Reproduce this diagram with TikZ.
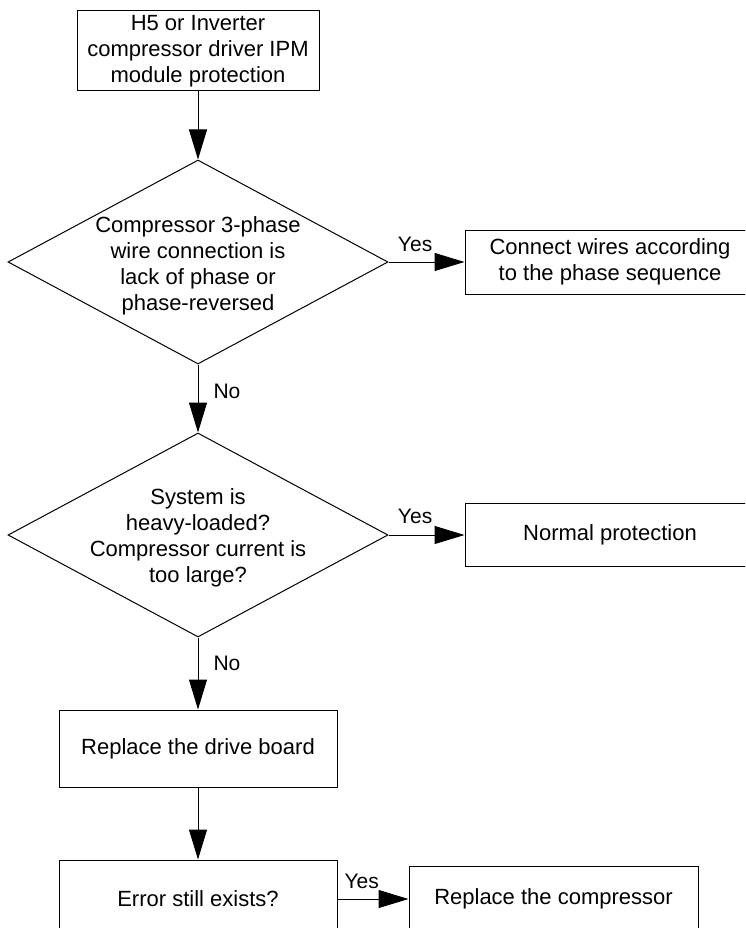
\documentclass[tikz,border=0pt]{standalone}
\usepackage{fontspec}
\setmainfont{Liberation Sans}
\usetikzlibrary{shapes.geometric,arrows.meta}

\begin{document}
\begin{tikzpicture}[x=1pt,y=-1pt,
  box/.style={draw,line width=1pt,rectangle,align=center,inner sep=0pt,font=\fontsize{22}{26}\selectfont},
  decision/.style={draw,line width=1pt,diamond,inner sep=0pt,minimum width=380pt,minimum height=204pt},
  dectext/.style={align=center,inner sep=0pt,font=\fontsize{22}{26}\selectfont},
  flow/.style={line width=1pt,-{Triangle[length=30pt,width=18pt]}},
  lbl/.style={inner sep=0pt,font=\fontsize{21}{24}\selectfont}]

\path[use as bounding box] (0,0) rectangle (745,928);
\clip (0,0) rectangle (745,928);

\node[box,minimum width=242pt,minimum height=80pt] (start) at (198,51) {H5 or Inverter\\compressor driver IPM\\module protection};
\node[decision] (dec1) at (198,262) {};
\node[dectext] at ([yshift=-4pt]dec1.center) {Compressor 3-phase\\wire connection is\\lack of phase or\\phase-reversed};
\node[box,minimum width=290pt,minimum height=64pt] (wires) at (610,262) {Connect wires according\\to the phase sequence};
\node[decision] (dec2) at (198,535) {};
\node[dectext] at ([yshift=-3pt]dec2.center) {System is\\heavy-loaded?\\Compressor current is\\too large?};
\node[box,minimum width=290pt,minimum height=63pt] (normal) at (610,535) {Normal protection};
\node[box,minimum width=278pt,minimum height=77pt] (board) at (198,748.5) {Replace the drive board};
\node[box,minimum width=278pt,minimum height=78pt] (again) at (198,899) {Error still exists?};
\node[box,minimum width=289pt,minimum height=66pt] (comp) at (553.5,899) {Replace the compressor};

\draw[flow] (start) -- (dec1.north);
\draw[flow] (dec1.east) -- node[lbl,pos=.35,anchor=south,yshift=10pt]{Yes} (wires.west);
\draw[flow] (dec1.south) -- node[lbl,pos=.4,anchor=west,xshift=15pt]{No} (dec2.north);
\draw[flow] (dec2.east) -- node[lbl,pos=.35,anchor=south,yshift=11pt]{Yes} (normal.west);
\draw[flow] (dec2.south) -- node[lbl,pos=.36,anchor=west,xshift=15pt]{No} (board.north);
\draw[flow] (board) -- (again);
\draw[flow] (again) -- node[lbl,pos=.34,anchor=south,yshift=10pt]{Yes} (comp);
\end{tikzpicture}
\end{document}
